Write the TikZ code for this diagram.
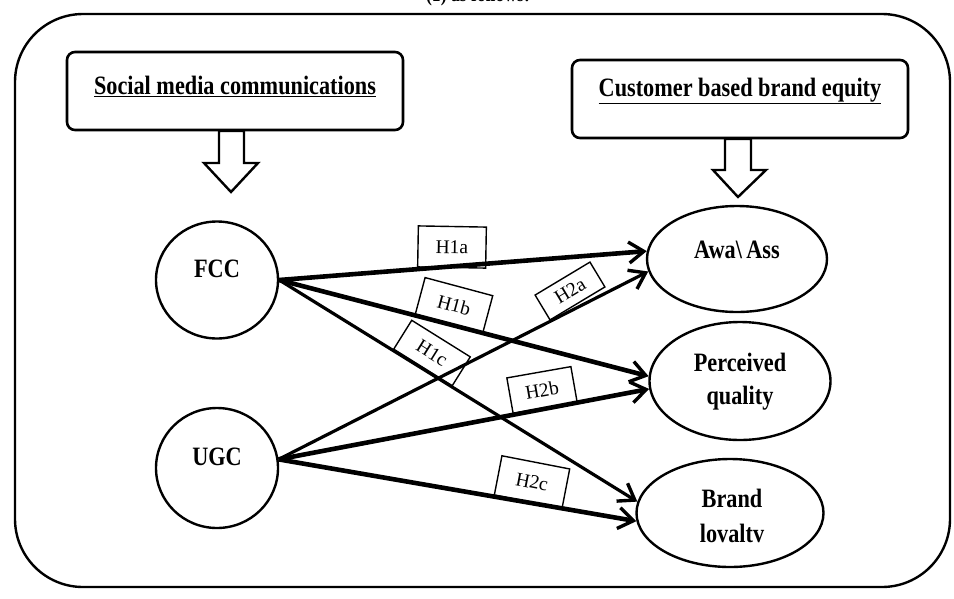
\documentclass[tikz,border=0pt]{standalone}
\usepackage{fontspec}
\setmainfont{Liberation Serif}
\newfontfamily\condserif[FakeStretch=0.84]{Liberation Serif}
\usetikzlibrary{arrows.meta,shapes.geometric}
\begin{document}
\begin{tikzpicture}[x=1pt,y=-1pt,
  frame/.style={draw,line width=2.4pt,rounded corners=68pt},
  headbox/.style={draw,line width=2.6pt,rounded corners=8pt,minimum width=336pt,minimum height=78pt},
  headtext/.style={font=\condserif\fontsize{26.5}{30}\selectfont\bfseries},
  concept/.style={draw,line width=2.4pt,ellipse,inner sep=0pt},
  ctext/.style={align=center,inner sep=0pt,font=\condserif\fontsize{26.5}{33}\selectfont\bfseries},
  hbox/.style={draw,line width=1.4pt,inner sep=0pt,font=\fontsize{19.5}{22}\selectfont},
  tip/.style={-{Straight Barb[length=15pt,width=21pt,line width=3.4pt]}},
  link/.style={tip,line width=4.6pt},
  thinlink/.style={tip,line width=3.2pt},
  hollow/.style={draw,line width=2.4pt,fill=white,line join=miter}]
\useasboundingbox (0,0) rectangle (954,598);
\node[anchor=base,font=\condserif\fontsize{21}{24}\selectfont\bfseries] (cap) at (478,1) {(1) as follows:};
\draw[frame] (15,14) rectangle (950,587);
% headers
\node[headbox] (smc) at (235,91) {};
\node[headtext] (smct) at (235,86) {\underline{Social media communications}};
\node[headbox] (cbbe) at (740,99) {};
\node[headtext] (cbbet) at (740,91) {\underline{Customer based brand equity}};
% hollow arrows
\draw[hollow] (219,131) -- (244,131) -- (244,163) -- (258,163) -- (231,192) -- (204,163) -- (219,163) -- cycle;
\draw[hollow] (725,139) -- (751,139) -- (751,170) -- (766,170) -- (738,197) -- (713,170) -- (725,170) -- cycle;
% concepts
\node[concept,minimum width=122pt,minimum height=117pt] (fcc) at (217,280) {};
\node[ctext] (fcct) at (217,269) {FCC};
\node[concept,minimum width=122pt,minimum height=120pt] (ugc) at (217,468) {};
\node[ctext] (ugct) at (217,457) {UGC};
\node[concept,minimum width=180pt,minimum height=106pt] (awa) at (737,259) {};
\node[ctext] (awat) at (737,250) {Awa\textbackslash\,Ass};
\node[concept,minimum width=181pt,minimum height=118pt] (pq) at (740,381) {};
\node[ctext] (pqt) at (740,382) {Perceived\\quality};
\node[concept,minimum width=187pt,minimum height=108pt] (bl) at (730,513) {};
\node[ctext,font=\condserif\fontsize{26.5}{35}\selectfont\bfseries] (blt) at (732,516) {Brand\\lovaltv};
% connectors
\draw[link] (fcc.east) -- (awa.175);
\draw[link] (fcc.east) -- (pq.177);
\draw[thinlink] (fcc.east) -- (bl.173);
\draw[thinlink] (ugc.8) -- (awa.188);
\draw[link] (ugc.8) -- (pq.185);
\draw[link] (ugc.8) -- (bl.185);
% hypothesis labels
\node[hbox,minimum width=68pt,minimum height=41pt,rotate=-1] (h1a) at (452,247) {H1a};
\node[hbox,minimum width=70pt,minimum height=38pt,rotate=-15] (h1b) at (454,305) {H1b};
\node[hbox,minimum width=69pt,minimum height=34pt,rotate=-32] (h1c) at (432,353) {H1c};
\node[hbox,minimum width=64pt,minimum height=29pt,rotate=31] (h2a) at (570,291) {H2a};
\node[hbox,minimum width=65pt,minimum height=36pt,rotate=10] (h2b) at (542,390) {H2b};
\node[hbox,minimum width=69pt,minimum height=40pt,rotate=-11] (h2c) at (532,482) {H2c};
\end{tikzpicture}
\end{document}
